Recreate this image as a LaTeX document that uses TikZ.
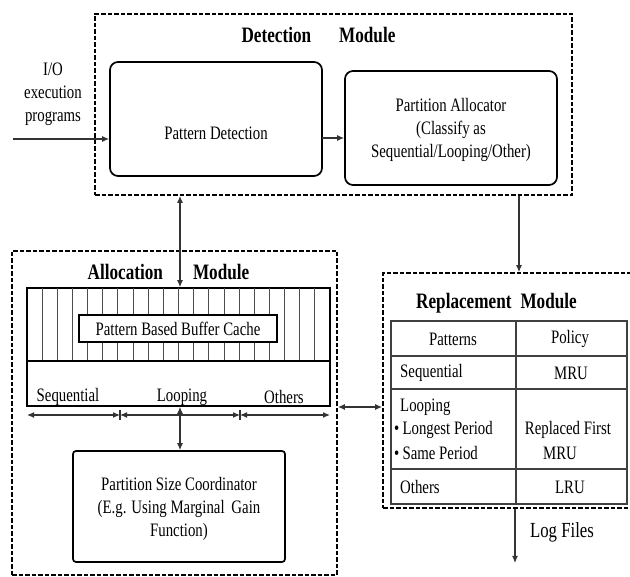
\documentclass[tikz,border=0pt]{standalone}
\usepackage{fontspec}
\setmainfont[FakeStretch=0.78]{Liberation Serif}
\usetikzlibrary{arrows.meta}
\begin{document}
\begin{tikzpicture}[x=1pt,y=-1pt,
  txt/.style={font=\fontsize{19}{23}\selectfont, align=center, inner sep=0pt},
  ltxt/.style={font=\fontsize{19}{23}\selectfont, anchor=west, inner sep=0pt},
  ttl/.style={font=\fontsize{22}{25}\selectfont\bfseries, inner sep=0pt},
  module/.style={draw, line width=1.8pt, dash pattern=on 4.5pt off 2pt},
  unit/.style={draw, line width=1.7pt, rounded corners=#1},
  conn/.style={draw=black!80, line width=1.2pt, -{Latex[length=7pt,width=6pt]}},
  bconn/.style={draw=black!80, line width=1.2pt, {Latex[length=7pt,width=6pt]}-{Latex[length=7pt,width=6pt]}},
  hatch/.style={draw=black!70, line width=0.9pt},
  grid/.style={draw=black!75, line width=1.4pt}
]
\path[use as bounding box, clip] (0,0) rectangle (630,577);
\fill[white] (0,0) rectangle (630,577);

% ---------------- Detection module ----------------
\node[module, minimum width=477pt, minimum height=181pt] (det) at (333.5,104.5) {};
\node[ttl] (dettitle) at (318.5,35) {Detection\hspace{28pt}Module};
\node[unit=8pt, minimum width=212pt, minimum height=114pt] (pd) at (216,119) {};
\node[txt] (pdtext) at (216,133) {Pattern Detection};
\node[unit=8pt, minimum width=212pt, minimum height=114pt] (pa) at (451,128) {};
\node[txt] (patext) at (451,130) {Partition Allocator\\(Classify as\\Sequential/Looping/Other)};
\node[txt] (io) at (53,94) {I/O\\execution\\programs};
\coordinate (in) at (13,139);
\draw[conn] (in) -- (in -| pd.west);
\coordinate (pdout) at (322,138);
\draw[conn] (pdout) -- (pdout -| pa.west);

% ---------------- Allocation module ----------------
\node[module, minimum width=325pt, minimum height=324pt] (alloc) at (174.5,413) {};
\node[ttl] (alloctitle) at (168.5,272) {Allocation\hspace{30pt}Module};
\node[draw, line width=1.6pt, minimum width=303pt, minimum height=118pt] (buf) at (178.5,347) {};
\foreach \k in {1,...,19}
  \draw[hatch] (27+\k*15.15,288) -- (27+\k*15.15,361);
\draw[line width=1.6pt] (buf.west |- 0,361) -- (buf.east |- 0,361);
\node[draw, fill=white, line width=1.6pt, minimum width=198pt, minimum height=27pt,
      font=\fontsize{19}{23}\selectfont, inner sep=0pt] (cache) at (178,328.5) {Pattern Based Buffer Cache};
\node[txt] (lseq) at (68,397) {Sequential};
\node[txt] (lloop) at (182,397) {Looping};
\node[txt] (loth) at (284,397) {Others};
\coordinate (r0) at (27,415);
\coordinate (r1) at (120,415);
\coordinate (r2) at (240,415);
\coordinate (r3) at (330,415);
\draw[bconn] (r0) -- (r1);
\draw[bconn] (r1) -- (r2);
\draw[bconn] (r2) -- (r3);
\draw[draw=black!80, line width=1.2pt] ([yshift=5pt]r1) -- ([yshift=-5pt]r1);
\draw[draw=black!80, line width=1.2pt] ([yshift=5pt]r2) -- ([yshift=-5pt]r2);
\node[unit=3pt, minimum width=212pt, minimum height=111pt] (psc) at (179,506.5) {};
\node[txt] (psctext) at (179,508.5) {Partition Size Coordinator\\(E.g. Using Marginal\, Gain\\Function)};
\coordinate (vx) at (180,0);
\draw[bconn] (det.south -| vx) -- (buf.north -| vx);
\draw[bconn] (buf.south -| vx) -- (psc.north -| vx);

% ---------------- Replacement module ----------------
\node[module, minimum width=257pt, minimum height=235pt] (rep) at (511.5,390.5) {};
\node[ttl] (reptitle) at (496.5,303) {Replacement\hspace{9pt}Module};
\draw[grid] (391,321) rectangle (627,504);
\draw[grid] (516,321) -- (516,504);
\foreach \r in {356,389,469}
  \draw[grid] (391,\r) -- (627,\r);
\node[txt] (hpat) at (453,339) {Patterns};
\node[txt] (hpol) at (570,339) {Policy};
\node[ltxt] (cseq) at (400,373) {Sequential};
\node[txt] (pseq) at (571,373) {MRU};
\node[ltxt] (cloop) at (400,407) {Looping};
\node[ltxt] (clong) at (394,430) {•\,Longest Period};
\node[ltxt] (csame) at (394,453) {•\,Same Period};
\node[txt] (prep) at (568,430) {Replaced First};
\node[txt] (pmru) at (560,453) {MRU};
\node[ltxt] (coth) at (400,487) {Others};
\node[txt] (plru) at (570,487) {LRU};

% ---------------- Links between modules ----------------
\coordinate (dx) at (519,0);
\draw[conn] (det.south -| dx) -- (rep.north -| dx);
\coordinate (hy) at (0,407);
\draw[bconn] (alloc.east |- hy) -- (rep.west |- hy);
\coordinate (logend) at (515,563);
\draw[conn] (rep.south -| logend) -- (logend);
\node[font=\fontsize{21.5}{25}\selectfont, inner sep=0pt] (log) at (562,532) {Log Files};
\end{tikzpicture}
\end{document}
